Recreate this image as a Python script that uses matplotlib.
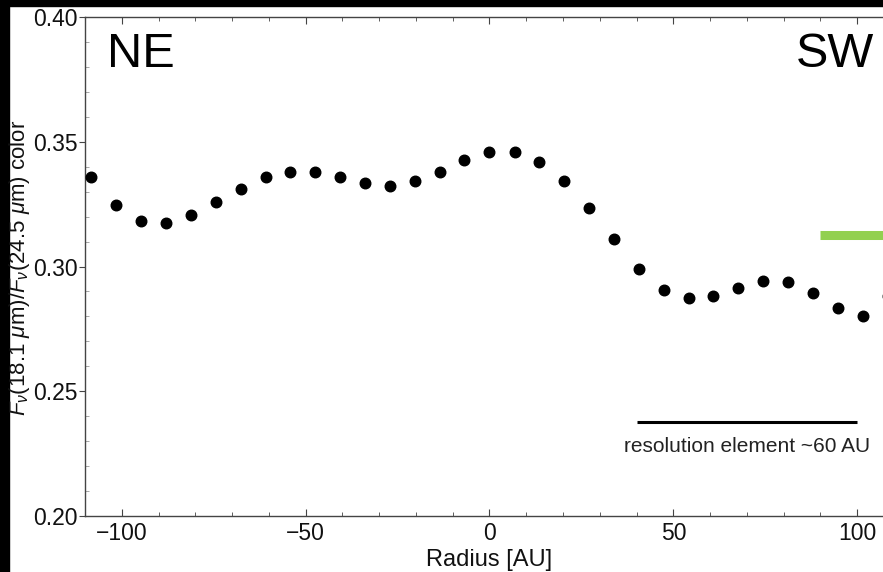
import numpy as np
import matplotlib.pyplot as plt
from matplotlib.patches import Rectangle
from matplotlib.ticker import MultipleLocator

plt.rcParams['font.family'] = ['Liberation Sans', 'DejaVu Sans']
plt.rcParams['mathtext.fontset'] = 'custom'
plt.rcParams['mathtext.rm'] = 'Liberation Sans'
plt.rcParams['mathtext.it'] = 'Liberation Sans:italic'

# radius of each sample [AU] and color ratio
radius = [-108.3, -101.6, -94.8, -88.0, -81.2, -74.5, -67.7, -60.9, -54.2, -47.4,
          -40.6, -33.9, -27.1, -20.3, -13.5, -6.8, 0.0, 6.8, 13.5, 20.3,
          27.1, 33.9, 40.6, 47.4, 54.2, 60.9, 67.7, 74.5, 81.2, 88.0,
          94.8, 101.6, 108.3]
color = [0.3359, 0.3245, 0.3184, 0.3174, 0.3205, 0.3259, 0.3312, 0.3358, 0.3379, 0.3378,
         0.3358, 0.3335, 0.3324, 0.3341, 0.3380, 0.3427, 0.3459, 0.3459, 0.3420, 0.3344,
         0.3236, 0.3109, 0.2991, 0.2907, 0.2873, 0.2883, 0.2915, 0.2941, 0.2937, 0.2894,
         0.2832, 0.2803, 0.2883]

res_x = [40, 100]
res_y = 0.2377
green_x = [90, 112]
green_y = 0.3125

fig = plt.figure(figsize=(8.83, 5.72), dpi=100)
ax = fig.add_axes([85/883, 56/572, 809/883, 499/572])

ax.plot(radius, color, 'o', color='black', markersize=7.6, clip_on=False, zorder=3)
ax.plot(res_x, [res_y, res_y], color='black', lw=2.2, solid_capstyle='butt')
ax.text(70, 0.2278, 'resolution element ~60 AU', ha='center', va='center',
        fontsize=15, color='#222222')
ax.plot(green_x, [green_y, green_y], color='#92d050', lw=6.5, solid_capstyle='butt', clip_on=False)

ax.text(-104, 0.385, 'NE', fontsize=35, ha='left', va='center')
ax.text(104.6, 0.385, 'SW', fontsize=35, ha='right', va='center')

ax.set_xlim(-110, 110)
ax.set_ylim(0.20, 0.40)
ax.set_xticks([-100, -50, 0, 50, 100])
ax.set_xticklabels(['\u2212100', '\u221250', '0', '50', '100'])
ax.set_yticks([0.20, 0.25, 0.30, 0.35, 0.40])
ax.set_yticklabels(['0.20', '0.25', '0.30', '0.35', '0.40'])
ax.xaxis.set_minor_locator(MultipleLocator(10))
ax.yaxis.set_minor_locator(MultipleLocator(0.01))
ax.tick_params(axis='x', which='both', direction='in', top=True, labelsize=16.5,
               colors='#444444', labelcolor='#111111', pad=4)
ax.tick_params(axis='x', which='major', length=5)
ax.tick_params(axis='x', which='minor', length=3)
ax.tick_params(axis='y', which='major', direction='out', length=4, labelsize=16.5,
               colors='#444444', labelcolor='#111111', pad=1)
ax.tick_params(axis='y', which='minor', direction='in', length=3, colors='#999999')
for s in ax.spines.values():
    s.set_color('#444444')
    s.set_linewidth(1.0)

ax.set_xlabel('Radius [AU]', fontsize=17, color='#111111', labelpad=3)
ax.set_ylabel(r'$F_\nu$(18.1 $\mu$m)/$F_\nu$(24.5 $\mu$m) color', fontsize=16,
              color='#111111')
ax.yaxis.set_label_coords(-0.066, 0.497)

# black borders of the scanned figure
fig.patches.append(Rectangle((0, 1 - 6/572), 1, 6/572, transform=fig.transFigure,
                             color='black', zorder=-1))
fig.patches.append(Rectangle((0, 0), 9/883, 1, transform=fig.transFigure,
                             color='black', zorder=-1))

fig.savefig('out.png', dpi=100)
